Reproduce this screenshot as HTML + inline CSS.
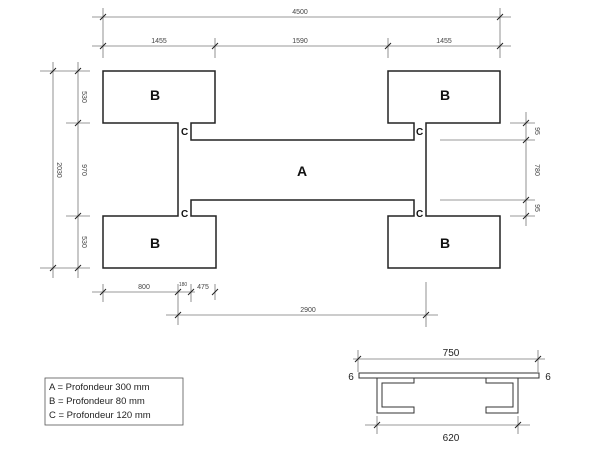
<!DOCTYPE html>
<html><head><style>body{margin:0;background:#fff}svg{display:block}</style></head><body>
<svg width="600" height="450" viewBox="0 0 600 450" xmlns="http://www.w3.org/2000/svg" font-family="Liberation Sans, sans-serif">
<rect width="600" height="450" fill="#fff"/>
<path d="M103,71H215V123H191V140H414V123H388V71H500V123H426V216H500V268H388V216H414V200H191V216H216V268H103V216H178V123H103Z" fill="none" stroke="#222" stroke-width="1.5"/>
<g font-weight="bold" font-size="14" fill="#111" text-anchor="middle">
<text x="155" y="100">B</text><text x="445" y="100">B</text><text x="155" y="248">B</text><text x="445" y="248">B</text>
<text x="302" y="176">A</text>
</g>
<g font-weight="bold" font-size="10" fill="#111">
<text x="181" y="135">C</text><text x="181" y="217">C</text><text x="416" y="135">C</text><text x="416" y="217">C</text>
</g>
<g stroke="#777" stroke-width="0.8" fill="none">
<path d="M92,17H511M92,46H511M103,8V58M500,8V58M215,38V58M388,38V58"/>
<path d="M53,62V278M78,62V278M40,71H90M66,123H90M66,216H90M40,268H90"/>
<path d="M526,112V226M510,123H535M440,140H535M440,200H535M510,216H535"/>
<path d="M92,292H195M103,284V302M178,284V325M191,284V302M215,284V300M166,315H438M426,282V327"/>
<path d="M353,359H545M358,350V372M538,350V372M365,425H530M377,416V434M518,416V434"/>
</g>
<g stroke="#222" stroke-width="1">
<path d="M100,20l6,-6M100,49l6,-6M212,49l6,-6M385,49l6,-6M497,20l6,-6M497,49l6,-6"/>
<path d="M50,74l6,-6M75,74l6,-6M75,126l6,-6M75,219l6,-6M50,271l6,-6M75,271l6,-6"/>
<path d="M523,126l6,-6M523,143l6,-6M523,203l6,-6M523,219l6,-6"/>
<path d="M100,295l6,-6M175,295l6,-6M188,295l6,-6M212,295l6,-6M175,318l6,-6M423,318l6,-6"/>
<path d="M355,362l6,-6M535,362l6,-6M374,428l6,-6M515,428l6,-6"/>
</g>
<g font-size="7" fill="#444" text-anchor="middle">
<text x="300" y="14">4500</text><text x="159" y="43">1455</text><text x="300" y="43">1590</text><text x="444" y="43">1455</text>
<text x="144" y="289">800</text><text x="203" y="289">475</text><text x="308" y="312">2900</text>
<text x="183" y="286" font-size="5">180</text>
<text transform="translate(57,170) rotate(90)">2030</text>
<text transform="translate(82,97) rotate(90)">530</text>
<text transform="translate(82,170) rotate(90)">970</text>
<text transform="translate(82,242) rotate(90)">530</text>
<text transform="translate(535,131) rotate(90)">95</text>
<text transform="translate(535,170) rotate(90)">780</text>
<text transform="translate(535,208) rotate(90)">95</text>
</g>
<rect x="359" y="373" width="180" height="5" fill="none" stroke="#333" stroke-width="1"/>
<path d="M377,378V413H414V407H382V383H414V378Z" fill="none" stroke="#333" stroke-width="1"/>
<path d="M518,378V413H486V407H513V383H486V378Z" fill="none" stroke="#333" stroke-width="1"/>
<g font-size="10" fill="#222" text-anchor="middle">
<text x="451" y="356">750</text><text x="451" y="441">620</text>
<text x="351" y="380">6</text><text x="548" y="380">6</text>
</g>
<rect x="45" y="378" width="138" height="47" fill="none" stroke="#555" stroke-width="0.8"/>
<g font-size="9.5" fill="#222">
<text x="49" y="390">A = Profondeur 300 mm</text>
<text x="49" y="404">B = Profondeur 80 mm</text>
<text x="49" y="418">C = Profondeur 120 mm</text>
</g>
</svg>
</body></html>
